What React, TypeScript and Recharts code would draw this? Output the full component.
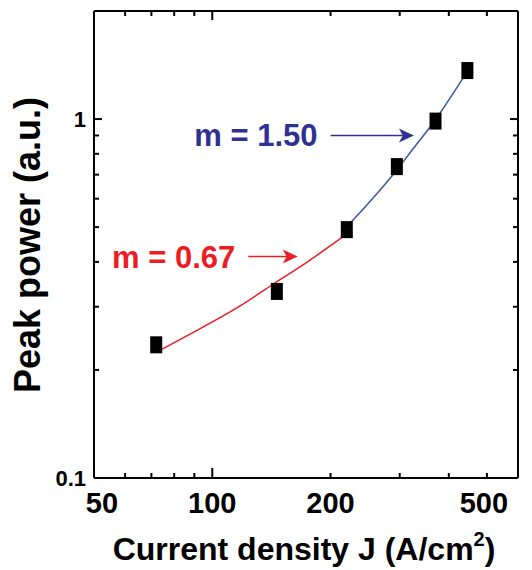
import React from 'react';
import { ComposedChart, Line, Scatter, XAxis, YAxis, ReferenceLine } from 'recharts';

// measured points
const currentDensity = [72, 146, 220, 295, 370, 446];
const peakPower = [0.235, 0.331, 0.492, 0.737, 0.987, 1.365];

// fit curves
const lowFitJ = [72, 88, 118, 143, 174, 221];
const lowFitP = [0.224, 0.252, 0.302, 0.347, 0.399, 0.48];
const highFitJ = [220, 253, 296, 326, 360, 445];
const highFitP = [0.501, 0.592, 0.725, 0.832, 0.956, 1.353];

const xTicks = [50, 60, 70, 80, 90, 100, 200, 300, 400, 500, 600];
const xLabels = [50, 100, 200, 500];
const yTicks = [0.1, 0.2, 0.3, 0.4, 0.5, 0.6, 0.7, 0.8, 0.9, 1];
const yLabels = [0.1, 1];

const points = currentDensity.map((x, i) => ({ x, y: peakPower[i] }));
const lowFit = lowFitJ.map((x, i) => ({ x, y: lowFitP[i] }));
const highFit = highFitJ.map((x, i) => ({ x, y: highFitP[i] }));

const FONT = 'Arial, "Liberation Sans", Helvetica, sans-serif';
const RED = '#ed1c24';
const BLUE = '#2e3192';
const BLUE_LINE = '#3a56a6';

const BottomTick = (props: any) => {
  const { x, y, payload } = props;
  const v = payload.value;
  const len = v === 100 ? 10 : 5;
  const dx = v === 50 ? 8 : v === 500 ? -3 : 0;
  return (
    <g>
      <line x1={x} y1={y} x2={x} y2={y - len} stroke="#000" strokeWidth={2} />
      {xLabels.includes(v) && (
        <text x={x + dx} y={y + 35} textAnchor="middle" fontSize={29} fontWeight="bold" fontFamily={FONT} fill="#000">
          {v}
        </text>
      )}
    </g>
  );
};

const TopTick = (props: any) => {
  const { x, y, payload } = props;
  const len = payload.value === 100 ? 9 : 5;
  return <line x1={x} y1={y} x2={x} y2={y + len} stroke="#000" strokeWidth={2} />;
};

const LeftTick = (props: any) => {
  const { x, y, payload } = props;
  const v = payload.value;
  const len = v === 1 ? 8 : 5;
  return (
    <g>
      <line x1={x} y1={y} x2={x + len} y2={y} stroke="#000" strokeWidth={2} />
      {yLabels.includes(v) && (
        <text x={x - 8} y={y + 8} textAnchor="end" fontSize={22} fontWeight="bold" fontFamily={FONT} fill="#000">
          {v}
        </text>
      )}
    </g>
  );
};

const RightTick = (props: any) => {
  const { x, y, payload } = props;
  const len = payload.value === 1 ? 8 : 5;
  return <line x1={x} y1={y} x2={x - len} y2={y} stroke="#000" strokeWidth={2} />;
};

const arrowShape = (color: string, label: string) => (props: any) => {
  const { x1, y1, x2, y2 } = props;
  return (
    <g>
      <line x1={x1} y1={y1} x2={x2 - 10} y2={y2} stroke={color} strokeWidth={1.4} />
      <path d={`M${x2},${y2} L${x2 - 15},${y2 - 7} L${x2 - 11},${y2} L${x2 - 15},${y2 + 7} Z`} fill={color} />
      <text x={x1 - 13} y={y1 + 11} textAnchor="end" fontSize={31} fontWeight="bold" fontFamily={FONT} fill={color}>
        {label}
      </text>
    </g>
  );
};

const Marker = (props: any) => {
  const { cx, cy } = props;
  return <rect x={cx - 6} y={cy - 8.5} width={12} height={17} fill="#000" />;
};

const axisLine = { stroke: '#000', strokeWidth: 2 };

export default function App() {
  return (
    <div style={{ position: 'absolute', left: 0, top: 0, background: '#fff' }}>
      <ComposedChart width={532} height={570} margin={{ top: 10, right: 13, bottom: 91, left: 93 }}>
        <XAxis
          xAxisId="bottom"
          dataKey="x"
          type="number"
          scale="log"
          domain={[50, 600]}
          allowDataOverflow
          ticks={xTicks}
          interval={0}
          height={1}
          tickSize={0}
          tickMargin={0}
          axisLine={axisLine}
          tickLine={false}
          tick={<BottomTick />}
        />
        <XAxis
          xAxisId="top"
          orientation="top"
          dataKey="x"
          type="number"
          scale="log"
          domain={[50, 600]}
          allowDataOverflow
          ticks={xTicks}
          interval={0}
          height={1}
          tickSize={0}
          tickMargin={0}
          axisLine={axisLine}
          tickLine={false}
          tick={<TopTick />}
        />
        <YAxis
          yAxisId="left"
          type="number"
          scale="log"
          domain={[0.1, 2]}
          allowDataOverflow
          ticks={yTicks}
          interval={0}
          width={1}
          tickSize={0}
          tickMargin={0}
          axisLine={axisLine}
          tickLine={false}
          tick={<LeftTick />}
        />
        <YAxis
          yAxisId="right"
          orientation="right"
          type="number"
          scale="log"
          domain={[0.1, 2]}
          allowDataOverflow
          ticks={yTicks}
          interval={0}
          width={1}
          tickSize={0}
          tickMargin={0}
          axisLine={axisLine}
          tickLine={false}
          tick={<RightTick />}
        />
        <Line
          xAxisId="bottom"
          yAxisId="left"
          data={lowFit}
          dataKey="y"
          type="monotone"
          stroke={RED}
          strokeWidth={1.5}
          dot={false}
          isAnimationActive={false}
        />
        <Line
          xAxisId="bottom"
          yAxisId="left"
          data={highFit}
          dataKey="y"
          type="monotone"
          stroke={BLUE_LINE}
          strokeWidth={1.5}
          dot={false}
          isAnimationActive={false}
        />
        <Scatter
          xAxisId="bottom"
          yAxisId="left"
          data={points}
          dataKey="y"
          shape={<Marker />}
          isAnimationActive={false}
        />
        <ReferenceLine
          xAxisId="bottom"
          yAxisId="left"
          segment={[{ x: 200, y: 0.9 }, { x: 326, y: 0.9 }]}
          ifOverflow="visible"
          shape={arrowShape(BLUE, 'm = 1.50')}
        />
        <ReferenceLine
          xAxisId="bottom"
          yAxisId="left"
          segment={[{ x: 123.5, y: 0.414 }, { x: 165, y: 0.414 }]}
          ifOverflow="visible"
          shape={arrowShape(RED, 'm = 0.67')}
        />
        <text
          transform="translate(40, 245) rotate(-90)"
          textAnchor="middle"
          fontSize={36}
          fontWeight="bold"
          fontFamily={FONT}
          fill="#000"
        >
          Peak power (a.u.)
        </text>
        <text x={304} y={560} textAnchor="middle" fontSize={32} fontWeight="bold" fontFamily={FONT} fill="#000">
          Current density J (A/cm<tspan dy={-14} fontSize={20}>2</tspan>
          <tspan dy={14}>)</tspan>
        </text>
      </ComposedChart>
    </div>
  );
}
